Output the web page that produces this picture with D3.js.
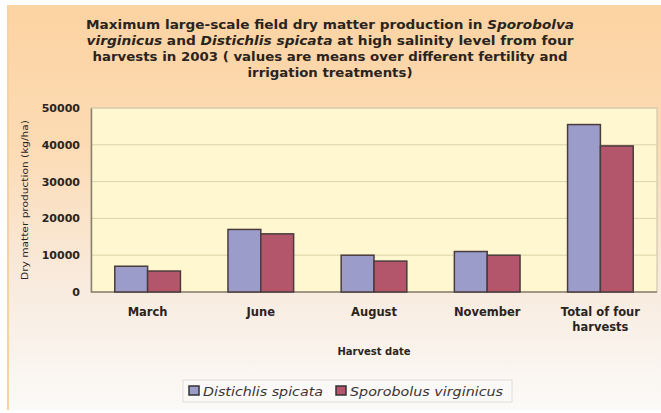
<!DOCTYPE html>
<html>
<head>
<meta charset="utf-8">
<script src="https://cdn.jsdelivr.net/npm/d3@7"></script>
<style>
  html, body { margin: 0; padding: 0; background: #fff; }
  svg { display: block; font-family: "DejaVu Sans", Verdana, sans-serif; }
</style>
</head>
<body>
<div id="chart"></div>
<script>
var categories = ['March', 'June', 'August', 'November', 'Total of four harvests'];
var seriesNames = ['Distichlis spicata', 'Sporobolus virginicus'];
var distichlis = [7000, 17000, 10000, 11000, 45500];
var sporobolus = [5700, 15800, 8400, 10000, 39700];
var yTicks = [0, 10000, 20000, 30000, 40000, 50000];
var colors = ['#9c9ccb', '#b3566b'];

(function () {
  var width = 661, height = 413;
  var plot = { left: 91, top: 108, right: 657, bottom: 292 };

  var svg = d3.select('#chart').append('svg')
    .attr('width', width)
    .attr('height', height);

  var defs = svg.append('defs');
  var grad = defs.append('linearGradient')
    .attr('id', 'bg').attr('x1', 0).attr('y1', 0).attr('x2', 0).attr('y2', 1);
  grad.append('stop').attr('offset', '0%').attr('stop-color', '#fcd3a2');
  grad.append('stop').attr('offset', '35%').attr('stop-color', '#fcdbb4');
  grad.append('stop').attr('offset', '70%').attr('stop-color', '#f8ebdf');
  grad.append('stop').attr('offset', '100%').attr('stop-color', '#fbfaf8');

  // frame
  svg.append('rect')
    .attr('x', 7).attr('y', 5)
    .attr('width', width - 7).attr('height', height - 8)
    .attr('fill', 'url(#bg)');
  svg.append('line')
    .attr('x1', 8).attr('x2', 8).attr('y1', 5).attr('y2', height - 3)
    .attr('stroke', '#f9d19a').attr('stroke-width', 2);

  // title, one text per line, widths
  var titleLines = [
    [['Maximum large-scale field dry matter production in ', false], ['Sporobolva', true]],
    [['virginicus', true], ['  and ', false], ['Distichlis spicata', true], [' at high salinity level from four', false]],
    [['harvests in 2003 ( values are means over different fertility and', false]],
    [['irrigation treatments)', false]]
  ];
  var titleWidths = [488, 487, 475, 165];
  titleLines.forEach(function (line, i) {
    var t = svg.append('text')
      .attr('x', 330).attr('y', 29 + i * 16)
      .attr('text-anchor', 'middle')
      .attr('font-size', 12.5)
      .attr('font-weight', 'bold')
      .attr('fill', '#2a2420')
      .attr('textLength', titleWidths[i])
      .attr('lengthAdjust', 'spacingAndGlyphs');
    line.forEach(function (part) {
      var s = t.append('tspan').text(part[0]);
      if (part[1]) s.attr('font-style', 'italic');
    });
  });

  var x0 = d3.scaleBand()
    .domain(categories)
    .range([plot.left, plot.right])
    .paddingInner(0.42)
    .paddingOuter(0.21);

  var x1 = d3.scaleBand()
    .domain(seriesNames)
    .range([0, x0.bandwidth()]);

  var y = d3.scaleLinear()
    .domain([0, 50000])
    .range([plot.bottom, plot.top]);

  // plot area
  svg.append('rect')
    .attr('x', plot.left).attr('y', plot.top)
    .attr('width', plot.right - plot.left).attr('height', plot.bottom - plot.top)
    .attr('fill', '#fef7cf')
    .attr('stroke', '#c8c0a8').attr('stroke-width', 1);

  svg.append('g')
    .selectAll('line')
    .data(yTicks.slice(1))
    .join('line')
    .attr('x1', plot.left).attr('x2', plot.right)
    .attr('y1', function (d) { return y(d); })
    .attr('y2', function (d) { return y(d); })
    .attr('stroke', '#ddd2a8').attr('stroke-width', 1);

  // y axis
  var yAxis = svg.append('g')
    .attr('transform', 'translate(' + plot.left + ',0)')
    .call(d3.axisLeft(y).tickValues(yTicks).tickFormat(d3.format('d')).tickSize(0).tickPadding(11));
  yAxis.select('.domain').attr('stroke', '#8a8070').attr('stroke-width', 1.5);
  yAxis.selectAll('text')
    .attr('font-size', 11).attr('font-weight', 'bold')
    .attr('font-family', '"DejaVu Sans", Verdana, sans-serif')
    .attr('fill', '#2a2420');

  svg.append('text')
    .attr('transform', 'translate(28,' + ((plot.top + plot.bottom) / 2) + ') rotate(-90)')
    .attr('text-anchor', 'middle')
    .attr('font-size', 9).attr('fill', '#2a2420')
    .attr('textLength', 160).attr('lengthAdjust', 'spacingAndGlyphs')
    .text('Dry matter production (kg/ha)');

  // x axis
  svg.append('line')
    .attr('x1', plot.left).attr('x2', plot.right)
    .attr('y1', plot.bottom).attr('y2', plot.bottom)
    .attr('stroke', '#8a8070').attr('stroke-width', 1.5);

  var xLabels = svg.append('g')
    .selectAll('text')
    .data(categories)
    .join('text')
    .attr('text-anchor', 'middle')
    .attr('font-size', 11.5).attr('font-weight', 'bold').attr('fill', '#2a2420');
  xLabels.each(function (d) {
    var el = d3.select(this);
    var cx = x0(d) + x0.bandwidth() / 2;
    var parts = d === 'Total of four harvests' ? ['Total of four', 'harvests'] : [d];
    parts.forEach(function (p, i) {
      el.append('tspan').attr('x', cx).attr('y', 316 + i * 15).text(p);
    });
  });

  svg.append('text')
    .attr('x', 374).attr('y', 355)
    .attr('text-anchor', 'middle')
    .attr('font-size', 10).attr('font-weight', 'bold').attr('fill', '#2a2420')
    .text('Harvest date');

  // bars
  var rows = categories.map(function (c, i) {
    return { cat: c, values: [distichlis[i], sporobolus[i]] };
  });
  svg.append('g')
    .selectAll('g')
    .data(rows)
    .join('g')
    .attr('transform', function (d) { return 'translate(' + x0(d.cat) + ',0)'; })
    .selectAll('rect')
    .data(function (d) {
      return d.values.map(function (v, k) { return { name: seriesNames[k], value: v, k: k }; });
    })
    .join('rect')
    .attr('x', function (d) { return x1(d.name); })
    .attr('y', function (d) { return y(d.value); })
    .attr('width', x1.bandwidth())
    .attr('height', function (d) { return y(0) - y(d.value); })
    .attr('fill', function (d) { return colors[d.k]; })
    .attr('stroke', '#4a3c3c').attr('stroke-width', 1.5);

  // legend
  var legend = svg.append('g');
  legend.append('rect')
    .attr('x', 183).attr('y', 380).attr('width', 329).attr('height', 22)
    .attr('fill', '#fbf9f8').attr('stroke', '#e2dcd8').attr('stroke-width', 1);
  var legendX = [189, 336];
  var legendW = [120, 153];
  seriesNames.forEach(function (name, k) {
    legend.append('rect')
      .attr('x', legendX[k]).attr('y', 386).attr('width', 10).attr('height', 9)
      .attr('fill', colors[k]).attr('stroke', '#333').attr('stroke-width', 1.5);
    legend.append('text')
      .attr('x', legendX[k] + 14).attr('y', 395.5)
      .attr('font-size', 12).attr('font-style', 'italic').attr('fill', '#3a3434')
      .attr('textLength', legendW[k]).attr('lengthAdjust', 'spacingAndGlyphs')
      .text(name);
  });
})();
</script>
</body>
</html>
